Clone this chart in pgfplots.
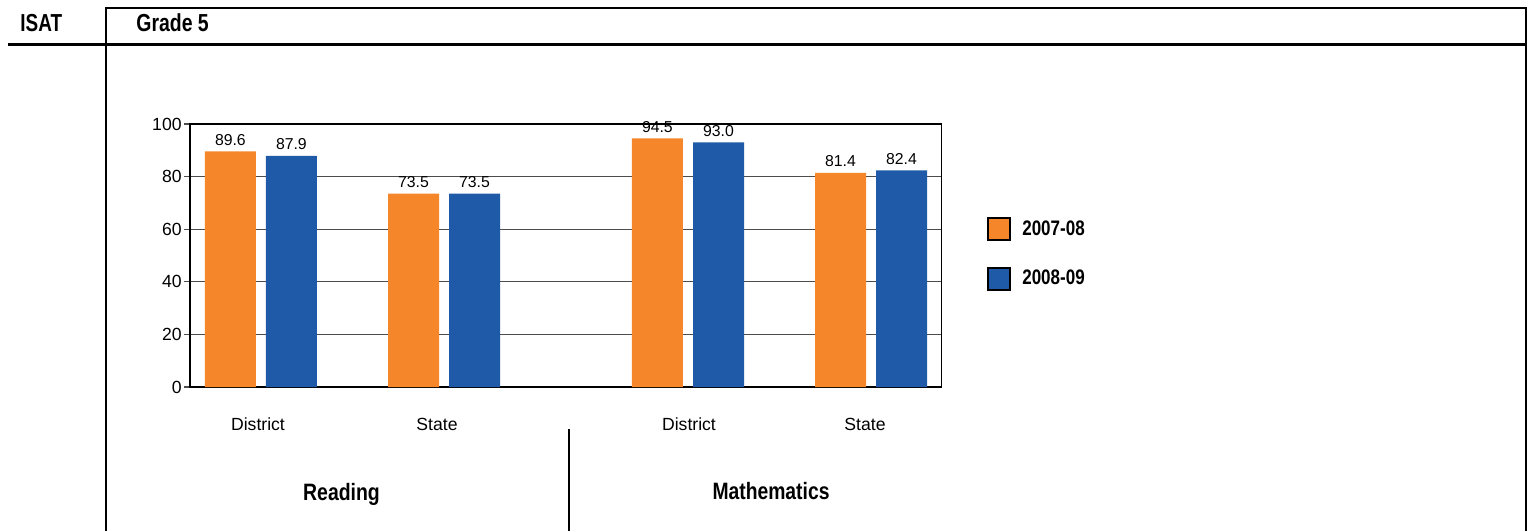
\documentclass[border=0pt]{standalone}
\usepackage{fontspec}
\setmainfont{Liberation Sans}
\usepackage{graphicx}
\usepackage{pgfplots}
\pgfplotsset{compat=1.18}

\definecolor{barorange}{RGB}{245,134,42}
\definecolor{barblue}{RGB}{30,90,168}

% condensed bold text for headings
\newcommand{\narrowbold}[2]{\scalebox{#1}[1]{\bfseries #2}}

\begin{document}
\begin{tikzpicture}
\useasboundingbox (0pt,0pt) rectangle (765.5pt,265.5pt);
\begin{axis}[
  at={(95pt,72pt)}, anchor=south west,
  scale only axis, width=375.8pt, height=131.5pt,
  xmin=190, xmax=941.6, ymin=0, ymax=100,
  ybar, bar width=51, bar shift=0pt,
  ytick={0,20,...,100},
  ymajorgrids, major grid style={black!70, line width=0.6pt},
  axis line style={black, line width=0.6pt},
  ytick pos=left, tick align=outside, major tick length=3pt,
  ytick style={black!70, line width=0.6pt},
  xtick={258,437,689,865},
  xticklabels={District,State,District,State},
  xtick style={draw=none},
  tick label style={font=\fontsize{8.8}{10}\selectfont},
  /pgf/number format/assume math mode=true,
  yticklabel style={inner sep=0pt, xshift=-1pt},
  xticklabel style={anchor=base, inner sep=0pt, yshift=-18.5pt},
  nodes near coords={\pgfmathprintnumber[fixed,fixed zerofill,precision=1]{\pgfplotspointmeta}},
  nodes near coords style={font=\fontsize{7.9}{9}\selectfont, inner sep=0pt, anchor=south, yshift=2.85pt},
  every axis plot post/.append style={
    legend image code/.code={\draw[##1, draw=black, line width=1pt] (0pt,-5.5pt) rectangle (11pt,5.5pt);}},
  legend style={draw=none, fill=none, at={(1.0603,0.650)}, anchor=north west,
    inner sep=0pt, row sep=12pt, font=\fontsize{10.5}{12}\selectfont,
    /tikz/every odd column/.append style={column sep=3.5pt}},
  legend cell align=left,
]
\addplot[fill=barorange, draw=none] coordinates {(230.4,89.6) (413.5,73.5) (657.4,94.5) (840.5,81.4)};
\addlegendentry{\narrowbold{0.81}{2007-08}}
\addplot[fill=barblue, draw=none] coordinates {(291.4,87.9) (474.5,73.5) (718.5,93.0) (901.5,82.4)};
\addlegendentry{\narrowbold{0.81}{2008-09}}
\end{axis}

% page frame, header row and subject labels
\begin{scope}[x=0.5pt, y=-0.5pt, shift={(0pt,265.5pt)}]
  \draw[line width=1pt] (105,8.5) -- (1527,8.5);
  \draw[line width=1.5pt] (8,45) -- (1527,45);
  \draw[line width=1.1pt] (106,8) -- (106,531);
  \draw[line width=1.1pt] (1526,8) -- (1526,531);
  \draw[line width=1pt] (569,429) -- (569,531);
  \node[anchor=base west, inner sep=0pt, font=\fontsize{12.3}{14}\selectfont] at (20,31.7) {\narrowbold{0.77}{ISAT}};
  \node[anchor=base west, inner sep=0pt, font=\fontsize{12.3}{14}\selectfont] at (136,31.7) {\narrowbold{0.79}{Grade 5}};
  \node[anchor=base, inner sep=0pt, font=\fontsize{11.85}{14}\selectfont] at (341.5,500) {\narrowbold{0.82}{Reading}};
  \node[anchor=base, inner sep=0pt, font=\fontsize{11.85}{14}\selectfont] at (771,499) {\narrowbold{0.815}{Mathematics}};
\end{scope}
\end{tikzpicture}
\end{document}
